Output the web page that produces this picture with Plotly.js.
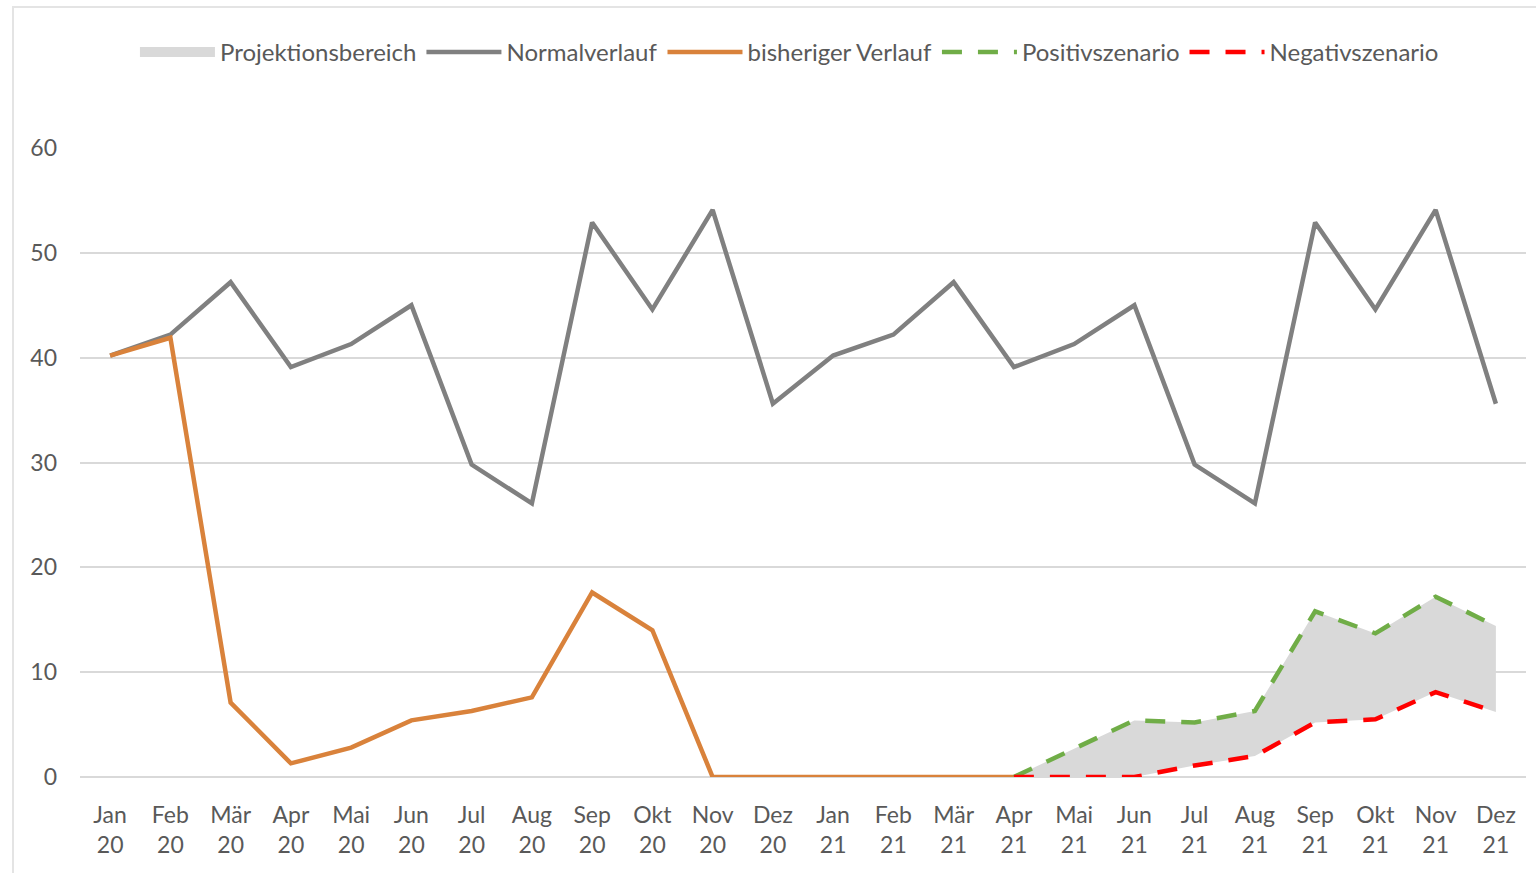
<!DOCTYPE html>
<html>
<head>
<meta charset="utf-8">
<script src="https://cdn.plot.ly/plotly-3.0.1.min.js"></script>
<style>
  html, body { margin:0; padding:0; background:#ffffff; overflow:hidden; }
  #chart { width:1536px; height:873px; }
  #frame { position:absolute; left:12px; top:6px; width:1600px; height:1000px; border:2px solid #e4e4e4; pointer-events:none; }
</style>
</head>
<body>
<div id="chart"></div>
<div id="frame"></div>
<script>
const months = ["Jan","Feb","Mär","Apr","Mai","Jun","Jul","Aug","Sep","Okt","Nov","Dez"];
const categories = [];
["20","21"].forEach(y => months.forEach(m => categories.push(m + "<br>" + y)));

const normalverlauf = [40.2, 42.2, 47.2, 39.1, 41.3, 45.0, 29.8, 26.1, 52.9, 44.6, 54.1, 35.6,
                       40.2, 42.2, 47.2, 39.1, 41.3, 45.0, 29.8, 26.1, 52.9, 44.6, 54.1, 35.6];
const bisherigerVerlauf = [40.2, 41.9, 7.1, 1.3, 2.8, 5.4, 6.3, 7.6, 17.6, 14.0, 0, 0,
                           0, 0, 0, 0];
const szenarioMonths = categories.slice(15);
const positivszenario = [0, 2.7, 5.4, 5.2, 6.3, 15.8, 13.7, 17.2, 14.4];
const negativszenario = [0, 0, 0, 1.1, 2.0, 5.2, 5.5, 8.1, 6.2];

const font = "Lato, 'Open Sans', sans-serif";
const textColor = "#595959";

const traces = [
  { x: szenarioMonths, y: negativszenario, type: "scatter", mode: "lines",
    line: { width: 0, color: "rgba(0,0,0,0)" }, showlegend: false, hoverinfo: "skip" },
  { x: szenarioMonths, y: positivszenario, type: "scatter", mode: "lines", name: "Projektionsbereich",
    fill: "tonexty", fillcolor: "#d9d9d9", line: { width: 0, color: "#d9d9d9" }, showlegend: false },
  { x: [null], y: [null], type: "scatter", mode: "lines", name: "Projektionsbereich",
    line: { width: 14, color: "#d9d9d9" } },
  { x: categories, y: normalverlauf, type: "scatter", mode: "lines", name: "Normalverlauf",
    line: { color: "#808080", width: 4.5 } },
  { x: categories.slice(0, bisherigerVerlauf.length), y: bisherigerVerlauf, type: "scatter", mode: "lines",
    name: "bisheriger Verlauf", line: { color: "#d9823b", width: 4.5 } },
  { x: szenarioMonths, y: positivszenario, type: "scatter", mode: "lines", name: "Positivszenario",
    line: { color: "#70ad47", width: 4.5, dash: "20px,16px" } },
  { x: szenarioMonths, y: negativszenario, type: "scatter", mode: "lines", name: "Negativszenario",
    line: { color: "#ff0000", width: 4.5, dash: "20px,16px" } }
];

const layout = {
  width: 1536, height: 873,
  margin: { l: 80, r: 10, t: 148, b: 96 },
  paper_bgcolor: "#ffffff", plot_bgcolor: "#ffffff",
  font: { family: font, size: 24, color: textColor },
  showlegend: true,
  legend: {
    orientation: "h", x: 0.038, xanchor: "left", y: 1.152, yanchor: "middle",
    font: { family: font, size: 24, color: textColor },
    itemwidth: 75, tracegroupgap: 0, traceorder: "normal"
  },
  xaxis: {
    type: "category", categoryorder: "array", categoryarray: categories,
    range: [-0.5, 23.5], showgrid: false, zeroline: false,
    showline: false, ticks: "", ticklabelstandoff: 22,
    tickfont: { family: font, size: 23, color: textColor }, fixedrange: true
  },
  yaxis: {
    range: [0, 60], tickvals: [0, 10, 20, 30, 40, 50, 60],
    showgrid: true, gridcolor: "#d9d9d9", gridwidth: 2,
    zeroline: true, zerolinecolor: "#d9d9d9", zerolinewidth: 2,
    showline: false, ticks: "", ticklabelstandoff: 22,
    tickfont: { family: font, size: 23, color: textColor }, fixedrange: true
  }
};

Plotly.newPlot("chart", traces, layout, { staticPlot: true, displayModeBar: false });
</script>
</body>
</html>
